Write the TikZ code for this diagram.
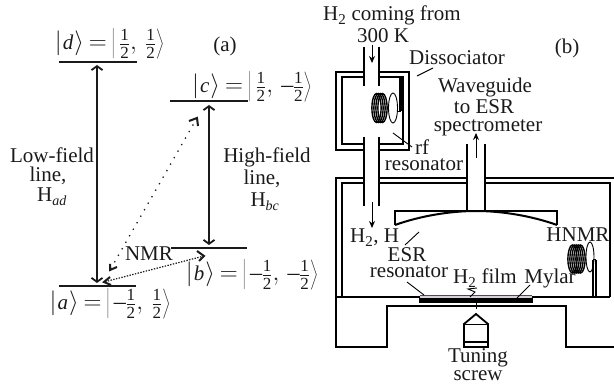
\documentclass[tikz,border=0pt]{standalone}
\usepackage{fontspec}
\setmainfont{Liberation Serif}
\usetikzlibrary{arrows.meta}
\newcommand{\fdig}[1]{\mbox{\fontsize{17}{17}\selectfont #1}}
\newcommand{\hf}{\frac{\fdig{1}}{\fdig{2}}}
\newcommand{\mhf}{\mbox{--}\kern-0.5pt\frac{\fdig{1}}{\fdig{2}}}
\newcommand{\myket}[3]{\fontsize{24}{26}\selectfont$\left|\kern1pt\mbox{\fontsize{21}{22}\selectfont\itshape #1}\kern1pt\right\rangle\kern-2pt=\kern-2pt\left|\,#2,\,#3\right\rangle$}
\definecolor{ink}{HTML}{1A1A1A}
\definecolor{filmpink}{HTML}{DCCFDC}
\tikzset{
  txt/.style={font=\fontsize{21}{22}\selectfont,inner sep=0pt,anchor=base,text=ink},
  lvl/.style={line width=2pt,draw=ink},
  trans/.style={line width=2pt,draw=ink,{Straight Barb[length=4pt,width=11pt,line width=1.8pt]}-{Straight Barb[length=4pt,width=11pt,line width=1.8pt]}},
  head/.style={line width=2pt,draw=ink},
  dbl/.style={line width=2pt,draw=black},
  thinl/.style={line width=0.9pt,draw=black},
  flow/.style={line width=1pt,draw=black,-{Stealth[length=7pt,width=6pt]}},
  coil/.style={line width=1.4pt,draw=black},
  wire/.style={line width=0.9pt,draw=black}
}
\begin{document}
\begin{tikzpicture}[x=1pt,y=-1pt]
\useasboundingbox (0,0) rectangle (614,390);
% panel (a) levels
\coordinate (dl) at (59,62);\coordinate (dr) at (137,62);\coordinate (dm) at (97,65);
\coordinate (cl) at (170,101);\coordinate (cr) at (248,101);\coordinate (cm) at (209,105);
\coordinate (bl) at (171,248);\coordinate (br) at (247,248);\coordinate (bm) at (209,245);
\coordinate (al) at (59,286);\coordinate (ar) at (136,286);\coordinate (am) at (97,283);
\draw[lvl] (dl)--(dr);\draw[lvl] (cl)--(cr);\draw[lvl] (bl)--(br);\draw[lvl] (al)--(ar);
\draw[trans] (dm)--(am);
\draw[trans] (cm)--(bm);
\coordinate (n1) at (197,118);\coordinate (n2) at (110,270);
\coordinate (n3) at (204,256);\coordinate (n4) at (104,282);
\draw[draw=ink,line width=1.3pt,dash pattern=on 1.3pt off 6.2pt] (n1)--(n2);
\draw[draw=ink,line width=1.2pt,dash pattern=on 1.4pt off 1.4pt] (n3)--(n4);
\draw[head] (189,121)--(n1)--(198,126);
\draw[head] (110,264)--(n2)--(117,267);
\draw[head] (197,251)--(n3)--(199,261);
\draw[head] (110,277)--(n4)--(111,285);
\node[txt] (kd) at (109.5,50) {\myket{d}{\hf}{\hf}};
\node[txt] (kc) at (252,93) {\myket{c}{\hf}{\mhf}};
\node[txt] (kb) at (252,281) {\myket{b}{\mhf}{\mhf}};
\node[txt] (ka) at (110,310) {\myket{a}{\mhf}{\hf}};
\node[txt] (pa) at (225,52) {(a)};
\node[txt] (lf1) at (52,163) {Low-field};
\node[txt] (lf2) at (48,182) {line,};
\node[txt] (lf3) at (52,202) {H$_{\mbox{\fontsize{14}{14}\selectfont\itshape ad}}$};
\node[txt] (hf1) at (267,163) {High-field};
\node[txt] (hf2) at (262,185) {line,};
\node[txt] (hf3) at (265,207) {H$_{\mbox{\fontsize{14}{14}\selectfont\itshape bc}}$};
\node[txt] (nmr) at (149,261) {NMR};
% panel (b): dissociator
\draw[dbl] (364,47)--(364,86);\draw[dbl] (379,47)--(379,86);
\draw[dbl] (364,137)--(364,206);\draw[dbl] (379,137)--(379,206);
\draw[dbl] (364,72)-|(336,150)--(364,150);
\draw[dbl] (379,72)-|(409,150)--(379,150);
\draw[dbl] (364,77)-|(342,144)--(364,144);
\draw[dbl] (379,77)-|(403,144)--(379,144);
\draw[line width=3.5pt,draw=black] (401,77)--(401,111);
\foreach \x in {376.5,378.5,380.5,382.5}{\draw[coil] (\x,108) ellipse[x radius=4.6,y radius=14.5];}
\draw[wire] (393,108) ellipse[x radius=4.5,y radius=15];
\draw[wire] (397,111)--(401,111);
% main chamber
\draw[dbl] (364,178)--(336,178)--(336,347)--(387,347)--(387,306)--(566,306)--(566,347)--(614,347);
\draw[dbl] (364,183)--(342,183)--(342,297);
\draw[dbl] (379,178)--(467,178);\draw[dbl] (379,183)--(467,183);
\draw[dbl] (485,178)--(614,178);
\draw[dbl] (485,183)--(610,183)--(610,297);
\draw[line width=1.3pt,draw=black] (336,297)--(420,297);
\draw[dbl] (532,297)--(610,297);
% waveguide and resonator
\draw[dbl] (467,144)--(467,212);\draw[dbl] (485,144)--(485,212);
\draw[line width=1.5pt,draw=black] (395,225)--(395,211)--(557,211)--(557,225);
\draw[line width=2pt,draw=black] (395,225) .. controls (420,216) and (450,211) .. (476,211) .. controls (502,211) and (532,216) .. (557,225);
% film
\fill[filmpink] (420,296) rectangle (532,298.5);
\draw[line width=0.6pt,draw=black!70] (420,295.7)--(532,295.7);
\fill[black] (419,298.5) rectangle (533,303);
\draw[line width=1pt,draw=black] (419.5,296)--(419.5,300);\draw[line width=1pt,draw=black] (532.5,296)--(532.5,300);
% tuning screw
\draw[line width=1.8pt,draw=black] (464,347)--(464,324)--(476,314)--(488,324)--(488,347)--cycle;
\draw[line width=0.8pt,draw=black] (464,324)--(488,324);
\draw[line width=1.2pt,draw=black] (464,342)--(488,342);
\draw[line width=0.8pt,draw=black] (476,303)--(476,309);
% HNMR coil
\foreach \x in {572.5,574.5,576.5,578.5,580.5}{\draw[coil] (\x,259) ellipse[x radius=4.6,y radius=14];}
\draw[wire] (590,257) ellipse[x radius=4,y radius=15];
\draw[line width=1.2pt,draw=black] (593,260)--(593,297);
\draw[line width=2.2pt,draw=black] (596,260)--(596,297);
\draw[line width=1pt,draw=black] (593,260)--(596,260);
% flow arrows
\coordinate (f1a) at (372,45);\coordinate (f1b) at (372,63);
\coordinate (f2a) at (372,202);\coordinate (f2b) at (372,228);
\coordinate (f3a) at (476,158);\coordinate (f3b) at (476,133);
\draw[flow] (f1a)--(f1b);\draw[flow] (f2a)--(f2b);\draw[flow] (f3a)--(f3b);
% leaders
\draw[thinl] (417,76)--(433,68);
\draw[thinl] (393,133)--(412,147);
\draw[thinl] (405,245)--(419,232);
\draw[thinl] (407,282)--(424,295);
\draw[thinl] (477,288)--(468,289)--(475,292)--(470,297);
\draw[thinl] (530,285)--(517,298);
% labels
\node[txt,anchor=base west] (t1) at (323,21) {H$_{\mbox{\fontsize{15}{15}\selectfont 2}}$ coming from};
\node[txt] (t2) at (383,43) {300 K};
\node[txt] (t3) at (457,65) {Dissociator};
\node[txt] (t4) at (567,54) {(b)};
\node[txt] (t5) at (485,93) {Waveguide};
\node[txt] (t6) at (484,114) {to ESR};
\node[txt] (t7) at (488,132) {spectrometer};
\node[txt] (t8) at (422,155) {rf};
\node[txt] (t9) at (424,171) {resonator};
\node[txt,anchor=base west] (t10) at (350,243) {H$_{\mbox{\fontsize{15}{15}\selectfont 2}}$, H};
\node[txt] (t11) at (407,262) {ESR};
\node[txt] (t12) at (409,278) {resonator};
\node[txt,anchor=base west] (t13) at (453,284) {H$_{\mbox{\fontsize{15}{15}\selectfont 2}}$ film};
\node[txt] (t14) at (550,284) {Mylar};
\node[txt] (t15) at (578,242) {HNMR};
\node[txt] (t16) at (478,363) {Tuning};
\node[txt] (t17) at (478,381) {screw};
\end{tikzpicture}
\end{document}
